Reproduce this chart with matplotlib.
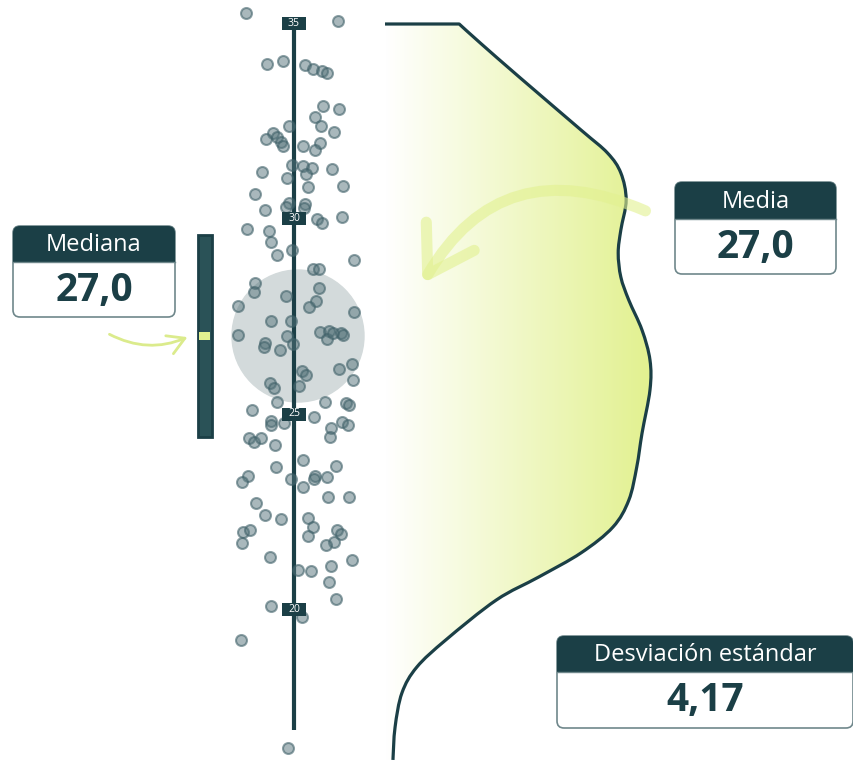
import matplotlib
matplotlib.use("Agg")
import matplotlib.pyplot as plt
import numpy as np
from matplotlib.patches import FancyBboxPatch, Rectangle, Ellipse, PathPatch, FancyArrowPatch
from matplotlib.path import Path
from matplotlib.colors import LinearSegmentedColormap

plt.rcParams['font.family'] = ['Open Sans', 'DejaVu Sans']

DARK = '#1b3f46'
LIME = '#e2f190'

# valores de cada punto y desplazamiento horizontal (jitter, px)
valores = [35.28, 35.08, 33.97, 34.05, 33.95, 33.85, 33.79, 33.74, 32.90, 32.82,
           32.62, 32.38, 32.38, 32.21, 32.05, 32.10, 31.97, 31.87, 31.87, 31.95,
           31.77, 32.23, 31.38, 31.36, 31.31, 31.15, 31.21, 31.05, 31.28, 30.82,
           30.85, 30.64, 30.23, 30.41, 30.31, 30.38, 30.28, 30.00, 29.90, 30.05,
           29.74, 29.69, 29.41, 29.21,
           29.08, 28.95, 28.72, 28.72, 28.36, 28.13, 28.23, 28.03, 27.90, 27.74,
           27.77, 27.62, 27.38, 27.38, 27.10, 27.13, 26.92, 27.08, 27.08, 27.03,
           27.03, 26.82, 26.72, 27.00, 26.79, 26.64, 26.28, 26.15, 26.10, 26.00,
           25.87, 25.79, 25.67, 25.72, 25.31, 25.31, 25.28, 25.23, 25.10, 24.92,
           24.82, 24.72, 24.77, 24.79, 24.72, 24.64, 24.41, 24.38, 24.28, 24.38,
           24.21, 23.82, 23.64, 23.67, 23.41, 23.26, 23.33, 23.41, 23.33, 23.38,
           23.13, 22.87, 22.87,
           22.72, 22.41, 22.31, 22.33, 22.10, 21.87, 21.97, 22.03, 21.69, 22.03,
           21.92, 21.72, 21.64, 21.33, 21.26, 21.00, 20.97, 21.10, 20.69, 20.26,
           20.08, 19.79, 19.21, 16.44]
jitter = [-48, 44, -27, -11, 11, 19, 28, 33, 29, 45,
          21, 27, -5, -21, -28, -17, -13, -11, 9, 26,
          21, 40, -2, 9, 18, 12, -32, -7, 38, 14,
          49, -39, -29, -5, -8, 11, 10, 23, 28, 48,
          -47, -25, -23, -2,
          -17, 60, 19, 25, -39, -40, 25, -8, 22, 15,
          -56, 60, -23, -3, 26, 35, 33, 39, 47, 49,
          -56, -29, -30, -7, -1, -14, 58, 45, 8, 12,
          59, -24, -20, 5, -17, 31, 52, 55, -42, 20,
          -23, -23, -10, 48, 54, 37, 36, -45, -40, -33,
          -19, 9, -18, 42, -46, -52, -3, 21, 20, 33,
          9, 34, 55,
          -38, -29, -13, 14, 19, 14, -51, -44, -52, 43,
          47, 40, 32, -24, 58, 4, 17, 37, 35, 42,
          -23, 8, -53, -6]

ticks = [20, 25, 30, 35]
media = 27.0
mediana = 27.0
cuartiles = [24.4, 29.6]
desviacion = 4.17

# perfil de densidad (valor, densidad relativa)
dens_y = [35.0, 34.51, 33.62, 32.28, 31.69, 31.18, 30.49, 29.72, 29.13, 28.51,
          27.92, 27.15, 26.38, 25.62, 24.51, 23.64, 22.79, 22.10, 21.44, 20.82,
          20.23, 19.21, 18.51, 17.85, 16.97, 16.13]
dens_x = [0.28, 0.36, 0.51, 0.74, 0.84, 0.89, 0.91, 0.89, 0.88, 0.89,
          0.92, 0.97, 1.00, 1.00, 0.97, 0.95, 0.92, 0.86, 0.74, 0.58,
          0.42, 0.23, 0.12, 0.064, 0.038, 0.03]

fig = plt.figure(figsize=(8.54, 7.62), dpi=100)
ax = fig.add_axes([0, 0, 1, 1])
ax.set_xlim(0, 854)
ax.set_ylim(35 - (762 - 24) / 39, 35 + 24 / 39)
ax.axis('off')

eje_x = 294
base_x = 385
ancho = 265
px = 1 / 39  # un píxel en unidades de valor

# círculo de la media
ax.add_patch(Ellipse((eje_x + 4, media), 132, 132 * px, color='#d3dadb', zorder=1))

# eje
ax.plot([eje_x, eje_x], [16.9, 35], color=DARK, lw=3, solid_capstyle='butt', zorder=2)

# puntos
ax.scatter(np.array(jitter) + eje_x, valores, s=62,
           facecolor=(0.33, 0.45, 0.48, 0.5), edgecolor=(0.25, 0.38, 0.41, 0.6),
           linewidth=1.5, zorder=3)

# etiquetas del eje
for t in ticks:
    ax.add_patch(Rectangle((eje_x - 12, t - 6.5 * px), 24, 13 * px, fc=DARK, ec='none', zorder=5))
    ax.text(eje_x, t, str(t), color='white', fontsize=7.5, ha='center', va='center', zorder=6)

# densidad: curva suave (Catmull-Rom) a través de los puntos leídos
pts = np.column_stack([base_x + np.array(dens_x) * ancho, dens_y])
ext = np.vstack([pts[0], pts, pts[-1]])
verts = [(base_x, dens_y[0]), tuple(pts[0])]
codes = [Path.MOVETO, Path.LINETO]
for i in range(1, len(ext) - 2):
    p0, p1, p2, p3 = ext[i - 1], ext[i], ext[i + 1], ext[i + 2]
    verts += [tuple(p1 + (p2 - p0) / 6), tuple(p2 - (p3 - p1) / 6), tuple(p2)]
    codes += [Path.CURVE4] * 3
linea = Path(verts, codes)
relleno = Path(verts + [(base_x, dens_y[-1]), (base_x, dens_y[0])],
               codes + [Path.LINETO, Path.LINETO])
clip = PathPatch(relleno, fc='none', ec='none')
ax.add_patch(clip)
cmap = LinearSegmentedColormap.from_list('g', ['#ffffff', LIME])
grad = np.linspace(0, 1, 256).reshape(1, -1)
im = ax.imshow(grad, cmap=cmap, extent=[base_x, base_x + ancho, 16.0, 35.0],
               aspect='auto', zorder=1, interpolation='bilinear')
im.set_clip_path(clip)
ax.add_patch(PathPatch(linea, fc='none', ec=DARK, lw=2.3, joinstyle='round', zorder=4))

# barra de la mediana (rango intercuartílico)
ax.add_patch(Rectangle((198, cuartiles[0]), 14, cuartiles[1] - cuartiles[0],
                       fc='#2a5257', ec='#1b3f46', lw=2, zorder=3))
ax.add_patch(Rectangle((199.5, mediana - 0.1), 11, 0.2, fc=LIME, ec='none', zorder=4))

# capa en píxeles para cajas y flechas
ov = fig.add_axes([0, 0, 1, 1], zorder=5)
ov.set_xlim(0, 854)
ov.set_ylim(762, 0)
ov.axis('off')
ov.patch.set_alpha(0)


def caja(x0, x1, y0, yh, y1, titulo, valor):
    ov.add_patch(FancyBboxPatch((x0, y0), x1 - x0, y1 - y0,
                                boxstyle='round,pad=0,rounding_size=7',
                                fc='white', ec='#6f878b', lw=1.2))
    ov.add_patch(FancyBboxPatch((x0, y0), x1 - x0, yh - y0,
                                boxstyle='round,pad=0,rounding_size=7',
                                fc=DARK, ec='none'))
    ov.add_patch(Rectangle((x0, yh - 8), x1 - x0, 8, fc=DARK, ec='none'))
    ov.plot([x0, x1], [yh, yh], color='#6f878b', lw=1)
    cx = (x0 + x1) / 2
    ov.text(cx, (y0 + yh) / 2 + 1, titulo, color='white', fontsize=17,
            ha='center', va='center')
    ov.text(cx, (yh + y1) / 2 + 1, valor, color=DARK, fontsize=28,
            fontweight='bold', ha='center', va='center')


fmt = lambda v, d=1: f'{v:.{d}f}'.replace('.', ',')
caja(13, 175, 226, 262, 317, 'Mediana', fmt(mediana))
caja(675, 836, 182, 219, 274, 'Media', fmt(media))
caja(557, 853, 636, 672, 728, 'Desviación estándar', fmt(desviacion, 2))

# flechas
ov.add_patch(FancyArrowPatch((648, 212), (421, 286), connectionstyle='arc3,rad=0.45',
                             arrowstyle='->,head_length=1.6,head_width=1.0',
                             mutation_scale=20, color=LIME, alpha=0.6, lw=8,
                             capstyle='round', joinstyle='round'))
ov.add_patch(FancyArrowPatch((107, 333), (190, 336), connectionstyle='arc3,rad=0.25',
                             arrowstyle='->,head_length=0.6,head_width=0.35',
                             mutation_scale=20, color='#dbeb8c', lw=2,
                             capstyle='round'))

fig.savefig('out.png', dpi=100)
